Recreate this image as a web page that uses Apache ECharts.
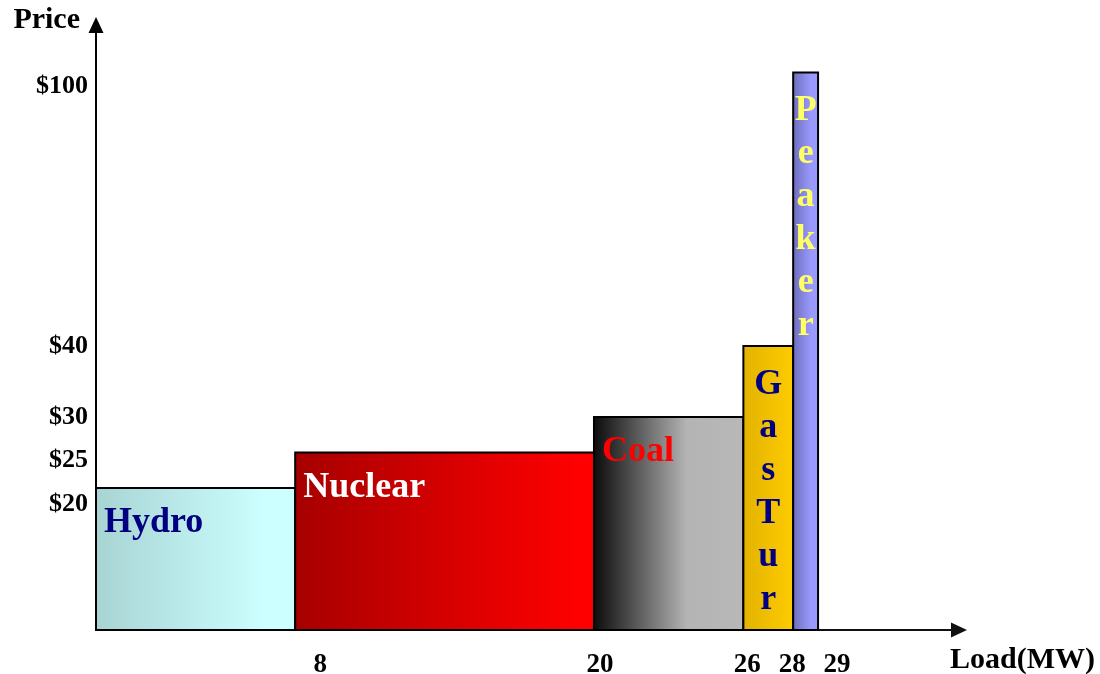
<!DOCTYPE html>
<html>
<head>
<meta charset="utf-8">
<title>Supply stack: price vs load</title>
<script src="https://cdn.jsdelivr.net/npm/echarts@6/dist/echarts.min.js"></script>
<style>
  html, body { margin: 0; padding: 0; background: #ffffff; }
  #chart { width: 1100px; height: 674px; }
</style>
</head>
<body>
<div id="chart"></div>
<script>
// Generating units in merit order
const plants = ['Hydro', 'Nuclear', 'Coal', 'GasTur', 'Peaker'];
// Load range covered by each unit (MW)
const loadFrom = [0, 8, 20, 26, 28];
const loadTo = [8, 20, 26, 28, 29];
// Offer price of each unit ($)
const prices = [20, 25, 30, 40, 100];
// Axis tick values
const priceTicks = [20, 25, 30, 40, 100];
const loadTicks = [8, 20, 26, 28, 29];

// Look of each block: gradient (left -> right) and label colour
const blockStyle = {
  Hydro:   { stops: [[0, '#a8d3d3'], [0.85, '#ccffff'], [1, '#ccffff']], text: '#000080' },
  Nuclear: { stops: [[0, '#a60000'], [0.95, '#ff0000'], [1, '#ff0000']], text: '#ffffff' },
  Coal:    { stops: [[0, '#0a0a0a'], [0.62, '#b4b4b4'], [1, '#b8b8b8']], text: '#ff0000' },
  GasTur:  { stops: [[0, '#e2b200'], [1, '#ffcc00']], text: '#000080' },
  Peaker:  { stops: [[0, '#6c6cb8'], [0.7, '#9999ff'], [1, '#9999ff']], text: '#ffff66' }
};

const serif = '"Liberation Serif", "Times New Roman", Times, serif';
const labelFont = 'bold 36px ' + serif;

// Small nudges (px) of tick labels away from their tick so crowded ones stay readable
const loadLabelNudge = { 8: 25, 20: 6, 26: 4, 28: -1, 29: 19 };   // + moves right
const priceLabelNudge = { 20: 16, 25: 8, 30: 0, 40: 0, 100: 14 }; // + moves down

function nudgeRich(ticks, nudge, size, horizontal) {
  const rich = {};
  ticks.forEach(v => {
    const d = nudge[v] || 0;
    const pad = 2 * Math.abs(d);
    rich['n' + v] = {
      fontFamily: serif,
      fontWeight: 'bold',
      fontSize: size,
      color: '#000000',
      padding: horizontal
        ? (d >= 0 ? [0, 0, 0, pad] : [0, pad, 0, 0])
        : (d >= 0 ? [pad, 0, 0, 0] : [0, 0, pad, 0])
    };
  });
  return rich;
}

const blocks = plants.map((p, i) => [loadFrom[i], loadTo[i], prices[i]]);

function renderBlock(params, api) {
  const name = plants[params.dataIndex];
  const look = blockStyle[name];
  const topLeft = api.coord([api.value(0), api.value(2)]);
  const bottomRight = api.coord([api.value(1), 0]);
  const w = bottomRight[0] - topLeft[0];
  const h = bottomRight[1] - topLeft[1];
  const fill = new echarts.graphic.LinearGradient(0, 0, 1, 0,
    look.stops.map(s => ({ offset: s[0], color: s[1] })));
  // narrow blocks get their name written one letter per line
  const narrow = w < 80;
  const label = narrow
    ? {
        type: 'text',
        x: topLeft[0] + w / 2,
        y: topLeft[1] + 17,
        style: {
          text: name.split('').join('\n'),
          font: labelFont,
          lineHeight: 43,
          fill: look.text,
          align: 'center',
          verticalAlign: 'top'
        }
      }
    : {
        type: 'text',
        x: topLeft[0] + 8,
        y: topLeft[1] + 17,
        style: {
          text: name,
          font: labelFont,
          fill: look.text,
          align: 'left',
          verticalAlign: 'top'
        }
      };
  return {
    type: 'group',
    children: [
      {
        type: 'rect',
        shape: { x: topLeft[0], y: topLeft[1], width: w, height: h },
        style: { fill: fill, stroke: '#000000', lineWidth: 2 }
      },
      label
    ]
  };
}

const chart = echarts.init(document.getElementById('chart'), null, { renderer: 'canvas' });

chart.setOption({
  backgroundColor: '#ffffff',
  animation: false,
  grid: { left: 96, top: 25, width: 863, height: 605, containLabel: false, outerBoundsMode: 'none' },
  xAxis: {
    type: 'value',
    min: 0,
    max: 34.66,
    splitLine: { show: false },
    axisTick: { show: false },
    axisLine: {
      show: true,
      lineStyle: { color: '#111111', width: 2 },
      symbol: ['none', 'triangle'],
      symbolSize: [15, 16]
    },
    axisLabel: {
      customValues: loadTicks,
      hideOverlap: false,
      margin: 22,
      formatter: v => '{n' + v + '|' + v + '}',
      rich: nudgeRich(loadTicks, loadLabelNudge, 27, true),
      color: '#000000',
      fontFamily: serif,
      fontWeight: 'bold',
      fontSize: 27
    },
    name: 'Load(MW)',
    nameLocation: 'end',
    nameGap: -9,
    nameTextStyle: {
      color: '#000000',
      fontFamily: serif,
      fontWeight: 'bold',
      fontSize: 30,
      align: 'left',
      verticalAlign: 'top',
      padding: [15, 0, 0, 0]
    }
  },
  yAxis: [
    {
      // price scale, squeezed between $50 and $80 so the $100 unit fits
      type: 'value',
      min: 0,
      max: 106.7,
      breaks: [{ start: 50, end: 80, gap: 8.5 }],
      breakArea: { show: false },
      splitLine: { show: false },
      axisTick: { show: false },
      axisLine: { show: false },
      axisLabel: {
        customValues: priceTicks,
        hideOverlap: false,
        formatter: v => '{n' + v + '|$' + v + '}',
        rich: nudgeRich(priceTicks, priceLabelNudge, 26, false),
        margin: 8,
        color: '#000000',
        fontFamily: serif,
        fontWeight: 'bold',
        fontSize: 26
      },
      name: 'Price',
      nameLocation: 'end',
      nameGap: 5,
      nameTextStyle: {
        color: '#000000',
        fontFamily: serif,
        fontWeight: 'bold',
        fontSize: 30,
        align: 'right',
        verticalAlign: 'middle',
        padding: [0, 16, 0, 0]
      }
    },
    {
      // plain continuous axis line with arrow head
      type: 'value',
      position: 'left',
      min: 0,
      max: 1,
      splitLine: { show: false },
      axisTick: { show: false },
      axisLabel: { show: false },
      axisLine: {
        show: true,
        onZero: false,
        lineStyle: { color: '#000000', width: 2 },
        symbol: ['none', 'triangle'],
        symbolSize: [15, 16]
      }
    }
  ],
  series: [
    {
      type: 'custom',
      name: 'Supply',
      renderItem: renderBlock,
      encode: { x: [0, 1], y: 2 },
      data: blocks,
      yAxisIndex: 0,
      clip: false
    }
  ]
});
</script>
</body>
</html>
